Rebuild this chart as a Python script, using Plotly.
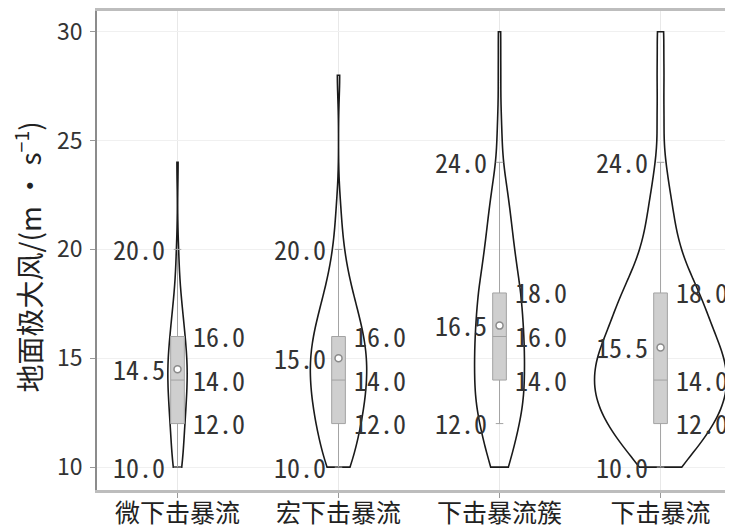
import plotly.graph_objects as go

# ---------------- data ----------------
categories = ["微下击暴流", "宏下击暴流", "下击暴流簇", "下击暴流"]
wind_levels = list(range(10, 31))  # m/s, 10..30
counts_micro = [4, 4, 5, 6, 7, 7, 5, 4, 2, 1, 1, 0, 0, 0, 1, 0, 0, 0, 0, 0, 0]
counts_macro = [5, 6, 8, 9, 10, 10, 9, 7, 5, 3, 2, 1, 1, 0, 0, 0, 0, 0, 1, 0, 0]
counts_cluster = [4, 6, 8, 10, 10, 10, 10, 9, 9, 7, 6, 5, 4, 3, 1, 1, 1, 0, 1, 0, 1]
counts_all = [3, 6, 8, 10, 10, 10, 8, 7, 6, 4, 3, 2, 2, 1, 1, 0, 1, 0, 1, 0, 1]

lower_whisker = [10.0, 10.0, 12.0, 10.0]
q1 = [12.0, 12.0, 14.0, 12.0]
median = [14.0, 14.0, 16.0, 14.0]
q3 = [16.0, 16.0, 18.0, 18.0]
upper_whisker = [20.0, 20.0, 24.0, 24.0]
mean = [14.5, 15.0, 16.5, 15.5]

y_ticks = [10, 15, 20, 25, 30]
y_title = "地面极大风/(m · s<sup>−1</sup>)"

# ---------------- style ----------------
violin_widths = [0.12, 0.35, 0.31, 0.82]
label_font = dict(family="Noto Sans Mono CJK SC, DejaVu Sans Mono, monospace", size=26, color="#333333")

all_counts = [counts_micro, counts_macro, counts_cluster, counts_all]

fig = go.Figure()

for cat, counts, w in zip(categories, all_counts, violin_widths):
    samples = [lvl for lvl, c in zip(wind_levels, counts) for _ in range(c)]
    fig.add_trace(go.Violin(
        x=[cat] * len(samples), y=samples, name=cat,
        width=w, bandwidth=1.0, spanmode="hard", scalemode="width",
        points=False, box_visible=False, meanline_visible=False,
        line=dict(color="#1a1a1a", width=1.6),
        fillcolor="rgba(255,255,255,0)",
        hoverinfo="skip", showlegend=False,
    ))

fig.add_trace(go.Box(
    x=categories, q1=q1, median=median, q3=q3,
    lowerfence=lower_whisker, upperfence=upper_whisker,
    width=0.085, whiskerwidth=0.55,
    fillcolor="#cfcfcf", line=dict(color="#a3a3a3", width=1),
    boxpoints=False, showlegend=False, hoverinfo="skip",
))

fig.add_trace(go.Scatter(
    x=categories, y=mean, mode="markers",
    marker=dict(symbol="circle", size=7, color="white",
                line=dict(color="#8a8a8a", width=1.5)),
    showlegend=False, hoverinfo="skip",
))

annotations = []
for i, cat in enumerate(categories):
    for v in (upper_whisker[i], mean[i], lower_whisker[i]):
        annotations.append(dict(x=cat, y=v, xref="x", yref="y", text=f"{v:.1f}",
                                showarrow=False, xanchor="right", yanchor="middle",
                                xshift=-11, yshift=1, font=label_font))
    for v in (q3[i], median[i], q1[i]):
        annotations.append(dict(x=cat, y=v, xref="x", yref="y", text=f"{v:.1f}",
                                showarrow=False, xanchor="left", yanchor="middle",
                                xshift=13, yshift=1, font=label_font))

annotations.append(dict(x=-0.1085, y=0.4875, xref="paper", yref="paper", text=y_title,
                        textangle=-90, showarrow=False, xanchor="center", yanchor="middle",
                        font=dict(family="Noto Sans CJK SC", size=28, color="#222222")))

# The page body adds an 8 px offset, so the figure is drawn 8 px smaller on each side.
fig.update_layout(
    width=725, height=521,
    margin=dict(l=89, r=0, t=3, b=39, autoexpand=False),
    paper_bgcolor="white", plot_bgcolor="white",
    violinmode="overlay", boxmode="overlay",
    font=dict(family="Noto Sans CJK SC", color="#222222"),
    annotations=annotations,
    xaxis=dict(type="category", categoryorder="array", categoryarray=categories,
               range=[-0.5, 3.45], showline=True, linecolor="#bdbdbd", linewidth=2.5,
               mirror=True, ticks="outside", ticklen=5, tickcolor="#999999",
               showgrid=True, gridcolor="#e8e8e8", gridwidth=1, automargin=False,
               ticklabelstandoff=-6,
               tickfont=dict(size=25, color="#222222", family="Noto Sans CJK SC")),
    yaxis=dict(range=[8.95, 30.95], tickvals=y_ticks, showline=True,
               linecolor="#8c8c8c", linewidth=1.5, ticks="outside", ticklen=5,
               tickcolor="#999999", showgrid=True, gridcolor="#f0f0f0",
               zeroline=False, automargin=False, ticklabelstandoff=3,
               tickfont=dict(size=23, color="#333333", family="Noto Sans CJK SC")),
)

fig.write_html("out.html")
